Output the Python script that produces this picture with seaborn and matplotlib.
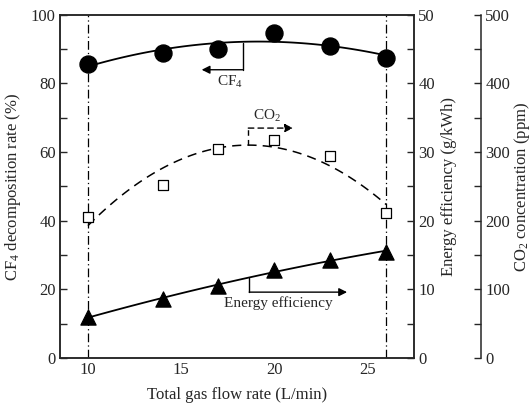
import numpy as np
import pandas as pd
import matplotlib
matplotlib.use("Agg")
import matplotlib.pyplot as plt
import seaborn as sns
from matplotlib.ticker import MultipleLocator

# ---- data ----
flow = [10, 14, 17, 20, 23, 26]
cf4_rate = [85.7, 88.9, 90.1, 94.7, 91.0, 87.5]          # %
co2_ppm = [205, 252, 305, 318, 295, 211]                 # ppm
energy_eff = [6.0, 8.6, 10.5, 12.8, 14.3, 15.5]          # g/kWh

x_ticks = [10, 15, 20, 25]
y1_ticks = [0, 20, 40, 60, 80, 100]
y2_ticks = [0, 10, 20, 30, 40, 50]
y3_ticks = [0, 100, 200, 300, 400, 500]

sns.set_style("white")
plt.rcParams['font.family'] = ['Liberation Serif', 'DejaVu Serif']
plt.rcParams['mathtext.fontset'] = 'custom'
plt.rcParams['mathtext.rm'] = 'Liberation Serif'
plt.rcParams['mathtext.it'] = 'Liberation Serif:italic'
plt.rcParams['font.size'] = 12

df = pd.DataFrame({'flow': flow, 'cf4': cf4_rate, 'co2': co2_ppm, 'eff': energy_eff})

fig = plt.figure(figsize=(5.31, 4.12), dpi=100)
ax = fig.add_axes([0.113, 0.131, 0.667, 0.833])
ax2 = ax.twinx()
ax3 = ax.twinx()
ax3.spines['right'].set_position(('axes', 1.189))

for a in (ax, ax2, ax3):
    a.set_facecolor('none')

# vertical dash-dot guide lines
for xv in (10, 26):
    ax.axvline(xv, color='black', lw=0.9, ls=(0, (7, 2.5, 1, 2.5)), zorder=1)

# CF4
sns.regplot(data=df, x='flow', y='cf4', order=2, ci=None, scatter=False, ax=ax,
            line_kws=dict(color='black', lw=1.3))
sns.scatterplot(data=df, x='flow', y='cf4', ax=ax, marker='o', s=150,
                color='black', edgecolor='black', zorder=5, legend=False)

# Energy efficiency
sns.regplot(data=df, x='flow', y='eff', order=2, ci=None, scatter=False, ax=ax2,
            line_kws=dict(color='black', lw=1.3))
sns.scatterplot(data=df, x='flow', y='eff', ax=ax2, marker='^', s=120,
                color='black', edgecolor='black', zorder=5, legend=False)

# CO2
sns.regplot(data=df, x='flow', y='co2', order=2, ci=None, scatter=False, ax=ax3,
            line_kws=dict(color='black', lw=1.1, ls=(0, (6, 4))))
sns.scatterplot(data=df, x='flow', y='co2', ax=ax3, marker='s', s=55,
                facecolor='white', edgecolor='black', linewidth=0.9, zorder=5, legend=False)

# limits and ticks
ax.set_xlim(8.5, 27.5)
ax.set_ylim(0, 100)
ax2.set_ylim(0, 50)
ax3.set_ylim(0, 500)
ax.set_xticks(x_ticks)
ax.set_yticks(y1_ticks)
ax2.set_yticks(y2_ticks)
ax3.set_yticks(y3_ticks)
ax.xaxis.set_minor_locator(MultipleLocator(5 / 3))
ax.yaxis.set_minor_locator(MultipleLocator(10))
ax2.yaxis.set_minor_locator(MultipleLocator(5))
ax3.yaxis.set_minor_locator(MultipleLocator(50))

for a in (ax, ax2, ax3):
    a.tick_params(which='both', direction='in', length=5, width=1, labelsize=12, pad=3)
ax.tick_params(axis='x', which='both', top=False)
ax.tick_params(axis='y', which='both', right=False)

for s in ax.spines.values():
    s.set_linewidth(1.1)
for s in ax2.spines.values():
    s.set_linewidth(1.1)
ax3.spines['right'].set_linewidth(1.1)
for k in ('left', 'top', 'bottom'):
    ax3.spines[k].set_visible(False)

ax.set_xlabel('Total gas flow rate (L/min)', fontsize=12, labelpad=6)
ax.set_ylabel('CF$_4$ decomposition rate (%)', fontsize=12, labelpad=6)
ax2.set_ylabel('Energy efficiency (g/kWh)', fontsize=12, labelpad=4)
ax3.set_ylabel('CO$_2$ concentration (ppm)', fontsize=12, labelpad=1)

# annotations
arrow = dict(arrowstyle='-|>', color='black', lw=1.0, mutation_scale=12, shrinkA=0, shrinkB=0)
ax.plot([18.3, 18.3], [91.8, 84.0], color='black', lw=1.0)
ax.annotate('', xy=(16.1, 84.0), xytext=(18.3, 84.0), arrowprops=arrow)
ax.text(17.6, 80.5, 'CF$_4$', ha='center', va='center', fontsize=11)

ax.plot([18.6, 18.6], [62.0, 67.0], color='black', lw=1.0, ls=(0, (4, 3)))
ax.annotate('', xy=(21.0, 67.0), xytext=(18.6, 67.0),
            arrowprops=dict(arrowstyle='-|>', color='black', lw=1.0, ls=(0, (4, 3)),
                            mutation_scale=12, shrinkA=0, shrinkB=0))
ax.text(19.6, 70.5, 'CO$_2$', ha='center', va='center', fontsize=11)

ax.plot([18.65, 18.65], [23.3, 19.2], color='black', lw=1.0)
ax.annotate('', xy=(23.9, 19.2), xytext=(18.65, 19.2), arrowprops=arrow)
ax.text(20.2, 16.0, 'Energy efficiency', ha='center', va='center', fontsize=11)

fig.savefig('out.png', dpi=100)
